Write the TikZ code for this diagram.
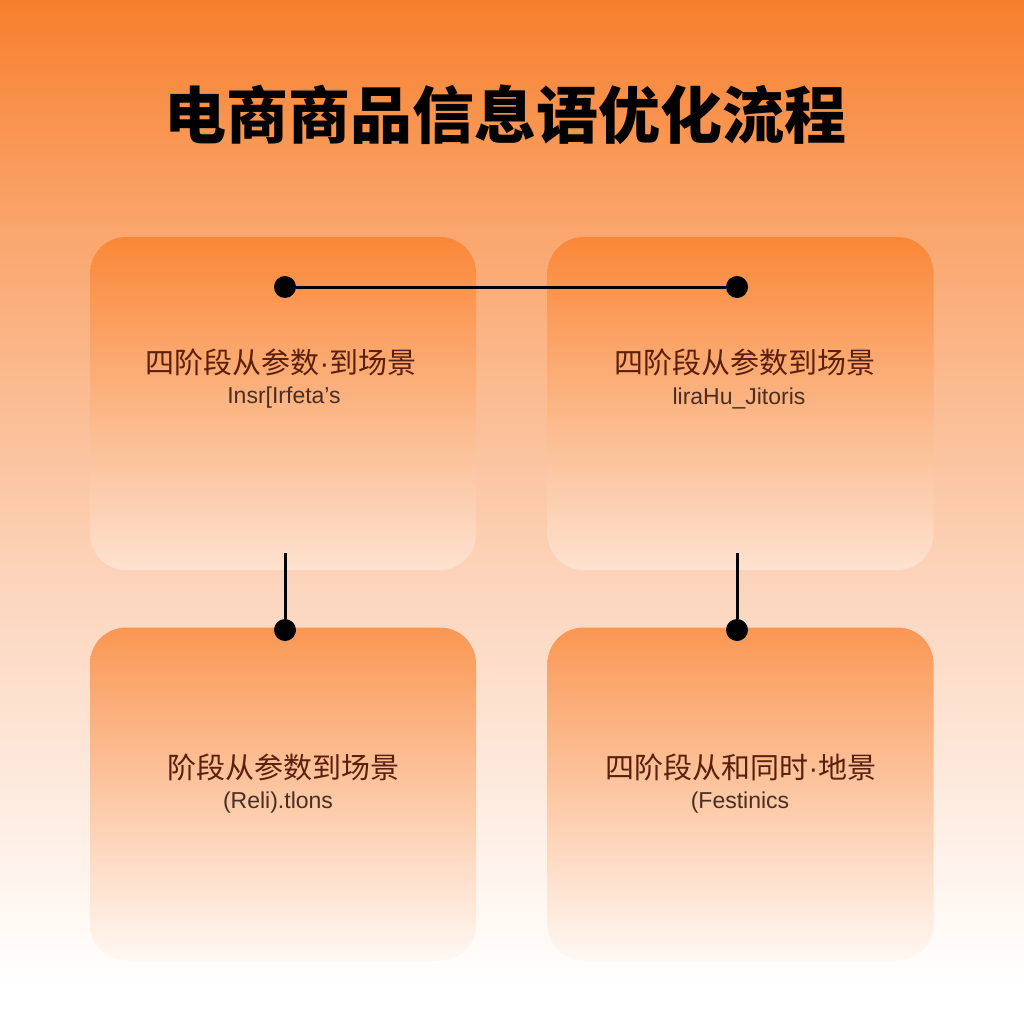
\documentclass[tikz,border=0pt]{standalone}
\usepackage{fontspec}
\setmainfont{Liberation Sans}
\newfontfamily\cjk{Noto Sans CJK SC}
\newfontfamily\latin{Liberation Sans}
\usetikzlibrary{positioning}
\definecolor{bgtop}{HTML}{F77F2C}
\definecolor{bgup}{HTML}{FAA56C}
\definecolor{bgmid}{HTML}{FCD6BE}
\definecolor{boxtop}{HTML}{FA8737}
\definecolor{boxbot}{HTML}{FDE2D0}
\definecolor{lowtop}{HTML}{FA9753}
\definecolor{lowbot}{HTML}{FFF8F4}
\definecolor{headtext}{HTML}{5A200C}
\definecolor{subtext}{HTML}{4A2E22}
\newcommand\mdot{{\latin\textperiodcentered}}
% path spans 25bp (bottom) to 75bp (top)
\pgfdeclareverticalshading{bgshade}{100bp}{color(0bp)=(white); color(27bp)=(white); color(46bp)=(bgmid); color(64bp)=(bgup); color(75bp)=(bgtop); color(100bp)=(bgtop)}
\begin{document}
\begin{tikzpicture}[x=1pt,y=-1pt,
  stage/.style={rounded corners=36pt,minimum width=386pt,minimum height=333pt,inner sep=0pt},
  upper/.style={stage,top color=boxtop,bottom color=boxbot},
  lower/.style={stage,top color=lowtop,bottom color=lowbot},
  head/.style={font=\cjk\fontsize{29}{32}\selectfont,text=headtext},
  sub/.style={font=\fontsize{23}{25}\selectfont,text=subtext},
  dot/.style={circle,fill=black,minimum size=22pt,inner sep=0pt},
  link/.style={line width=3pt,black}]

  \useasboundingbox (0,0) rectangle (1024,1024);
  \shade[shading=bgshade] (0,0) rectangle (1024,1024);

  \node[font=\cjk\bfseries\fontsize{62}{66}\selectfont] (title) at (505,115) {电商商品信息语优化流程};

  \node[upper] (b1) at (283,403.5) {};
  \node[upper] (b2) at (740.5,403.5) {};
  \node[lower] (b3) at (283,794) {};
  \node[lower] (b4) at (740.5,794) {};

  \node[head] (h1) at (281,362) {四阶段从参数\mdot 到场景};
  \node[sub] (s1) at (284,398) {Insr[Irfeta's};
  \node[head] (h2) at (745,362) {四阶段从参数到场景};
  \node[sub] (s2) at (739,398) {liraHu\_Jitoris};
  \node[head] (h3) at (283,767) {阶段从参数到场景};
  \node[sub] (s3) at (278,803) {(Reli).tlons};
  \node[head] (h4) at (741,767) {四阶段从和同时\mdot 地景};
  \node[sub] (s4) at (740,803) {(Festinics};

  \node[dot] (d1) at (285,287) {};
  \node[dot] (d2) at (737,287) {};
  \node[dot] (d3) at (285,630) {};
  \node[dot] (d4) at (737,630) {};
  \coordinate (c1) at (285,553);
  \coordinate (c2) at (737,553);

  \draw[link] (d1) -- (d2);
  \draw[link] (c1) -- (d3);
  \draw[link] (c2) -- (d4);
\end{tikzpicture}
\end{document}
